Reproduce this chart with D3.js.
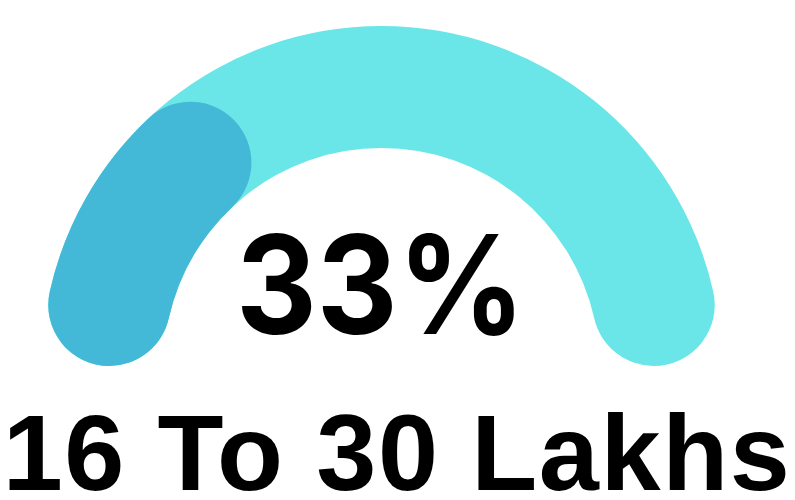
<!DOCTYPE html>
<html>
<head>
<meta charset="utf-8">
<script src="https://cdn.jsdelivr.net/npm/d3@7"></script>
<style>
    body { margin: 0; background: #fff; }
</style>
</head>
<body>
<div id="gauge"></div>
<script>
    // gauge data
    var percent = [33]
    var trackRange = [0, 100]
    var valueLabel = ["33%"]
    var caption = ["16 To 30 Lakhs"]

    var width = 795
    var height = 500
    var cx = 381.5, cy = 366

    var svg = d3.select('#gauge')
        .append('svg')
        .attr('width', width)
        .attr('height', height)

    var g = svg.append('g')
        .attr('transform', 'translate(' + cx + ',' + cy + ')')

    // angle scale: half circle, -90deg to +90deg
    var angle = d3.scaleLinear()
        .domain(trackRange)
        .range([-Math.PI / 2, Math.PI / 2])

    var arc = d3.arc()
        .innerRadius(218)
        .outerRadius(340)
        .cornerRadius(61)

    // background track
    g.append('path')
        .attr('d', arc({ startAngle: angle(trackRange[0]), endAngle: angle(trackRange[1]) }))
        .style('fill', '#6be6e8')

    // value arc
    g.selectAll('path.value')
        .data(percent)
        .enter()
        .append('path')
        .attr('class', 'value')
        .attr('d', function (d) {
            return arc({ startAngle: angle(trackRange[0]), endAngle: angle(d) })
        })
        .style('fill', '#43b9d7')

    // big percentage, squeezed a bit horizontally
    g.append('g')
        .attr('transform', 'translate(-1,' + (334 - cy) + ') scale(0.915,1)')
        .append('text')
        .attr('text-anchor', 'middle')
        .style('font-family', 'Inter, "Open Sans", sans-serif')
        .style('font-weight', 700)
        .style('font-size', '137px')
        .style('fill', '#000')
        .text(valueLabel[0])

    svg.append('text')
        .attr('x', 397)
        .attr('y', 490)
        .attr('text-anchor', 'middle')
        .style('font-family', '"Liberation Sans", Arial, sans-serif')
        .style('font-weight', 700)
        .style('font-size', '108px')
        .style('letter-spacing', '1.6px')
        .style('fill', '#000')
        .text(caption[0])
</script>
</body>
</html>
